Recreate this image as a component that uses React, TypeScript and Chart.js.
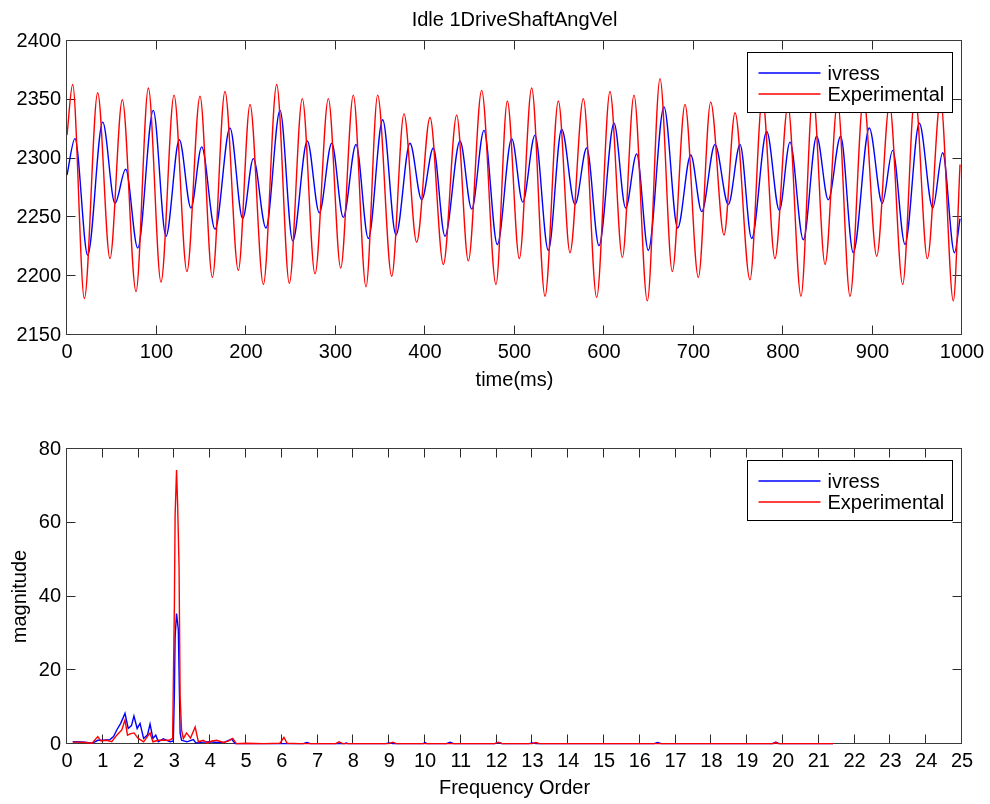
import React, { useEffect, useRef } from "react";
import { Chart, registerables } from "chart.js";

Chart.register(...registerables);

// ---------- Top plot: time series (extrema) ----------
const chartTitle = "Idle 1DriveShaftAngVel";

const blueTime = [0, 8.9, 23.1, 39.9, 53.6, 65.6, 79, 96.4, 110.6, 125.5, 138.5, 150.5, 165.4, 182.1, 196.3, 208.2, 222.3, 238, 252.2, 268.5, 281.9, 295.8, 308.7, 322.9, 336.7, 352.7, 367.6, 383.2, 396.3, 409.3, 422.3, 439.1, 452.2, 465.9, 480.8, 496.9, 509.2, 522.9, 537.8, 552.7, 567.6, 580.7, 594.4, 611.2, 624.2, 636.5, 649.5, 667, 682.3, 696.9, 709.2, 724, 738.9, 752, 765, 781.8, 795.9, 807.8, 822.7, 837.6, 850.6, 864.4, 878.5, 896.4, 910.9, 922.5, 936.3, 952.3, 967.3, 978.4, 991.6, 997.8];
const blueSpeed = [2286, 2317, 2218, 2331, 2262, 2291, 2224, 2341, 2234, 2316, 2258, 2310, 2240, 2326, 2249, 2300, 2241, 2341, 2230, 2315, 2254, 2313, 2250, 2312, 2232, 2333, 2235, 2313, 2265, 2309, 2234, 2315, 2257, 2324, 2227, 2317, 2263, 2320, 2222, 2325, 2261, 2309, 2226, 2330, 2258, 2304, 2222, 2344, 2241, 2303, 2255, 2312, 2261, 2312, 2232, 2323, 2256, 2314, 2231, 2319, 2265, 2319, 2220, 2326, 2262, 2307, 2227, 2330, 2258, 2305, 2220, 2249];

const redTime = [0, 6.3, 19.4, 34.3, 48, 61.8, 77.1, 90.9, 105, 119.6, 134, 148.6, 162.4, 176.5, 191.4, 204.5, 219.4, 234.3, 248.4, 262.9, 277.1, 292, 305.8, 319.9, 334.1, 347.1, 362.8, 376.5, 390.7, 405.6, 420.5, 435.4, 448.4, 463.3, 479.3, 492, 505.4, 519.2, 534.1, 549, 562, 576.9, 591.8, 606.7, 620.5, 633.5, 648.4, 662.6, 676.3, 690.5, 705.4, 719.2, 734.1, 746.4, 763.1, 777, 791, 805.5, 820.1, 833.5, 847, 861, 874.9, 890, 904.7, 919, 933.7, 947.5, 961.3, 976, 990.3, 997.8];
const redSpeed = [2320, 2363, 2181, 2356, 2215, 2350, 2187, 2360, 2195, 2354, 2204, 2353, 2199, 2357, 2205, 2346, 2193, 2363, 2194, 2351, 2202, 2351, 2207, 2354, 2191, 2354, 2200, 2338, 2229, 2335, 2210, 2337, 2213, 2358, 2193, 2349, 2215, 2360, 2183, 2349, 2220, 2351, 2182, 2357, 2216, 2354, 2179, 2368, 2204, 2346, 2199, 2348, 2235, 2339, 2197, 2352, 2215, 2345, 2183, 2355, 2210, 2348, 2183, 2352, 2217, 2346, 2193, 2355, 2215, 2350, 2179, 2295];

// ---------- Bottom plot: spectrum ----------
const blueFreq = [0.16, 0.3, 0.5, 0.7, 0.86, 1.0, 1.2, 1.3, 1.39, 1.5, 1.62, 1.71, 1.8, 1.87, 1.96, 2.04, 2.14, 2.25, 2.32, 2.4, 2.48, 2.55, 2.69, 2.88, 2.97, 3.0, 3.02, 3.06, 3.11, 3.16, 3.2, 3.35, 3.53, 3.6, 3.8, 4.0, 4.2, 4.4, 4.6, 4.7, 5.0, 5.5, 6.0, 6.6, 6.7, 6.8, 7.5, 7.75, 7.8, 7.85, 8.9, 9.0, 9.1, 9.95, 10.0, 10.05, 10.6, 10.7, 10.8, 11.95, 12.05, 12.15, 12.9, 13.0, 13.1, 16.4, 16.5, 16.6, 19.7, 19.8, 19.9, 21.4];
const blueMag = [0.6, 0.6, 0.5, 0.2, 1.0, 1.0, 1.2, 2.0, 3.8, 5.6, 8.3, 4.2, 5.0, 7.6, 4.2, 5.6, 1.5, 2.5, 5.4, 1.5, 2.4, 0.6, 1.4, 0.6, 0.8, 14, 29, 35.4, 31, 3.0, 1.0, 0.6, 1.2, 0.3, 0.5, 0.6, 0.4, 0.5, 1.3, 0.1, 0.1, 0.1, 0.1, 0.1, 0.4, 0.1, 0.1, 0.1, 0.3, 0.1, 0.1, 0.3, 0.1, 0.1, 0.4, 0.1, 0.1, 0.5, 0.1, 0.1, 0.4, 0.1, 0.1, 0.3, 0.1, 0.1, 0.4, 0.1, 0.1, 0.5, 0.1, 0.1];

const redFreq = [0.16, 0.3, 0.5, 0.7, 0.86, 0.95, 1.1, 1.25, 1.39, 1.53, 1.62, 1.69, 1.78, 1.87, 1.99, 2.14, 2.32, 2.4, 2.55, 2.7, 2.85, 2.95, 3.0, 3.02, 3.06, 3.09, 3.13, 3.16, 3.2, 3.25, 3.34, 3.45, 3.58, 3.67, 3.81, 3.9, 4.05, 4.18, 4.37, 4.5, 4.63, 4.73, 5.0, 5.5, 5.95, 6.06, 6.15, 6.5, 7.0, 7.5, 7.6, 7.7, 8.5, 9.0, 9.1, 9.2, 10.0, 11.0, 11.95, 12.05, 12.15, 13.0, 13.1, 13.2, 14.5, 16.0, 17.5, 19.0, 19.75, 19.8, 19.85, 20.5, 21.4];
const redMag = [0.5, 0.5, 0.4, 0.2, 2.0, 0.8, 1.0, 0.6, 2.4, 3.8, 6.5, 2.4, 2.8, 3.0, 1.5, 0.6, 3.0, 0.6, 1.0, 1.0, 1.0, 1.5, 38, 62, 74.3, 65, 48, 12.8, 3.8, 1.5, 3.0, 1.6, 4.6, 0.6, 1.0, 0.3, 0.8, 1.0, 0.4, 0.8, 1.5, 0.1, 0.2, 0.1, 0.2, 1.8, 0.2, 0.1, 0.1, 0.1, 0.6, 0.1, 0.1, 0.1, 0.5, 0.1, 0.1, 0.1, 0.1, 0.5, 0.1, 0.1, 0.4, 0.1, 0.1, 0.1, 0.1, 0.1, 0.1, 0.5, 0.1, 0.1, 0.1];

const seriesNames = ["ivress", "Experimental"];
const seriesColors = ["#0000ff", "#ff0000"];

const FONT = "'Liberation Sans', Arial, Helvetica, sans-serif";

const zip = (xs: number[], ys: number[]) => xs.map((x, i) => ({ x, y: ys[i] }));
const plain = (v: any) => String(v);

// MATLAB-like box with inward ticks on all sides
const matlabAxes = {
  id: "matlabAxes",
  beforeDatasetsDraw(chart: any) {
    const { ctx, chartArea } = chart;
    const { left, right, top, bottom } = chartArea;
    const xs = chart.scales.x;
    const ys = chart.scales.y;
    const L = Math.round(left) - 0.5;
    const R = Math.round(right) - 0.5;
    const T = Math.round(top) - 0.5;
    const B = Math.round(bottom) - 0.5;
    const tl = 9;
    ctx.save();
    ctx.strokeStyle = "#2b2b2b";
    ctx.lineWidth = 1;
    ctx.beginPath();
    xs.ticks.forEach((t: any) => {
      const p = Math.round(xs.getPixelForValue(t.value)) - 0.5;
      ctx.moveTo(p, B);
      ctx.lineTo(p, B - tl);
      ctx.moveTo(p, T);
      ctx.lineTo(p, T + tl);
    });
    ys.ticks.forEach((t: any) => {
      const p = Math.round(ys.getPixelForValue(t.value)) - 0.5;
      ctx.moveTo(L, p);
      ctx.lineTo(L + tl, p);
      ctx.moveTo(R, p);
      ctx.lineTo(R - tl, p);
    });
    ctx.stroke();
    ctx.strokeStyle = "#3a3a3a";
    ctx.strokeRect(L, T, R - L, B - T);
    ctx.restore();
  },
};

// Axes title centred over the plot area (MATLAB style)
const axesTitle = {
  id: "axesTitle",
  afterDraw(chart: any, _args: any, opts: any) {
    if (!opts || !opts.text) return;
    const { ctx, chartArea } = chart;
    ctx.save();
    ctx.font = `20px ${FONT}`;
    ctx.fillStyle = "#000";
    ctx.textAlign = "center";
    ctx.textBaseline = "middle";
    ctx.fillText(opts.text, (chartArea.left + chartArea.right) / 2, chartArea.top - 21);
    ctx.restore();
  },
};

// Legend box inside the axes, top-right
const matlabLegend = {
  id: "matlabLegend",
  afterDraw(chart: any) {
    const { ctx, chartArea } = chart;
    const w = 205;
    const h = 60;
    const bx = Math.round(chartArea.right - 10 - w) + 0.5;
    const by = Math.round(chartArea.top + 11) + 0.5;
    ctx.save();
    ctx.fillStyle = "#ffffff";
    ctx.fillRect(bx, by, w, h);
    ctx.strokeStyle = "#000000";
    ctx.lineWidth = 1;
    ctx.strokeRect(bx, by, w, h);
    ctx.font = `20px ${FONT}`;
    ctx.textBaseline = "middle";
    ctx.textAlign = "left";
    chart.data.datasets.forEach((ds: any, i: number) => {
      const yy = Math.round(by + 20.5 + i * 21);
      ctx.strokeStyle = ds.borderColor;
      ctx.lineWidth = 1.3;
      ctx.beginPath();
      ctx.moveTo(bx + 11, yy);
      ctx.lineTo(bx + 73, yy);
      ctx.stroke();
      ctx.fillStyle = "#000";
      ctx.fillText(ds.label, bx + 80, yy + 1);
    });
    ctx.restore();
  },
};

const tickFont = { family: FONT, size: 20 };
const LW = 1.4;

export default function App() {
  const topRef = useRef<HTMLCanvasElement>(null);
  const botRef = useRef<HTMLCanvasElement>(null);

  useEffect(() => {
    Chart.defaults.font.family = FONT;
    Chart.defaults.color = "#000";

    const top = new Chart(topRef.current as HTMLCanvasElement, {
      type: "line",
      data: {
        datasets: [
          {
            label: seriesNames[0],
            data: zip(blueTime, blueSpeed),
            borderColor: seriesColors[0],
            borderWidth: LW,
            pointRadius: 0,
            cubicInterpolationMode: "monotone",
            fill: false,
            order: 1,
          },
          {
            label: seriesNames[1],
            data: zip(redTime, redSpeed),
            borderColor: seriesColors[1],
            borderWidth: LW,
            pointRadius: 0,
            cubicInterpolationMode: "monotone",
            fill: false,
            order: 0,
          },
        ],
      } as any,
      options: {
        responsive: false,
        animation: false,
        events: [],
        layout: { padding: { top: 41, right: 28, left: 0, bottom: 0 } },
        plugins: {
          legend: { display: false },
          tooltip: { enabled: false },
          title: { display: false },
          axesTitle: { text: chartTitle },
        },
        scales: {
          x: {
            type: "linear",
            min: 0,
            max: 1000,
            ticks: { stepSize: 100, padding: 5, maxRotation: 0, autoSkip: false, color: "#000", font: tickFont, callback: plain },
            grid: { display: false, drawTicks: false },
            border: { display: false },
            title: { display: true, text: "time(ms)", color: "#000", font: tickFont, padding: { top: 0, bottom: 10 } },
            afterFit: (s: any) => {
              s.height = 67;
            },
          },
          y: {
            type: "linear",
            min: 2150,
            max: 2400,
            ticks: { stepSize: 50, padding: 6, color: "#000", font: tickFont, callback: plain },
            grid: { display: false, drawTicks: false },
            border: { display: false },
            afterFit: (s: any) => {
              s.width = 67;
            },
          },
        },
      } as any,
      plugins: [matlabAxes, matlabLegend, axesTitle],
    });

    const bot = new Chart(botRef.current as HTMLCanvasElement, {
      type: "line",
      data: {
        datasets: [
          {
            label: seriesNames[0],
            data: zip(blueFreq, blueMag),
            borderColor: seriesColors[0],
            borderWidth: LW,
            pointRadius: 0,
            tension: 0,
            fill: false,
            clip: false,
            order: 1,
          },
          {
            label: seriesNames[1],
            data: zip(redFreq, redMag),
            borderColor: seriesColors[1],
            borderWidth: LW,
            pointRadius: 0,
            tension: 0,
            fill: false,
            clip: false,
            order: 0,
          },
        ],
      } as any,
      options: {
        responsive: false,
        animation: false,
        events: [],
        layout: { padding: { top: 47, right: 28, left: 0, bottom: 0 } },
        plugins: {
          legend: { display: false },
          tooltip: { enabled: false },
          title: { display: false },
        },
        scales: {
          x: {
            type: "linear",
            min: 0,
            max: 25,
            ticks: { stepSize: 1, padding: 5, maxRotation: 0, autoSkip: false, color: "#000", font: tickFont, callback: plain },
            grid: { display: false, drawTicks: false },
            border: { display: false },
            title: { display: true, text: "Frequency Order", color: "#000", font: tickFont, padding: { top: 0, bottom: 4 } },
            afterFit: (s: any) => {
              s.height = 60;
            },
          },
          y: {
            type: "linear",
            min: 0,
            max: 80,
            ticks: { stepSize: 20, padding: 6, color: "#000", font: tickFont, callback: plain },
            grid: { display: false, drawTicks: false },
            border: { display: false },
            title: { display: true, text: "magnitude", color: "#000", font: tickFont, padding: { top: 8, bottom: 0 } },
            afterFit: (s: any) => {
              s.width = 67;
            },
          },
        },
      } as any,
      plugins: [matlabAxes, matlabLegend],
    });

    return () => {
      top.destroy();
      bot.destroy();
    };
  }, []);

  return (
    <div style={{ position: "absolute", left: 0, top: 0, width: 990, height: 804, background: "#fff" }}>
      <canvas ref={topRef} width={990} height={402} style={{ position: "absolute", left: 0, top: 0, display: "block" }} />
      <canvas ref={botRef} width={990} height={402} style={{ position: "absolute", left: 0, top: 402, display: "block" }} />
    </div>
  );
}
